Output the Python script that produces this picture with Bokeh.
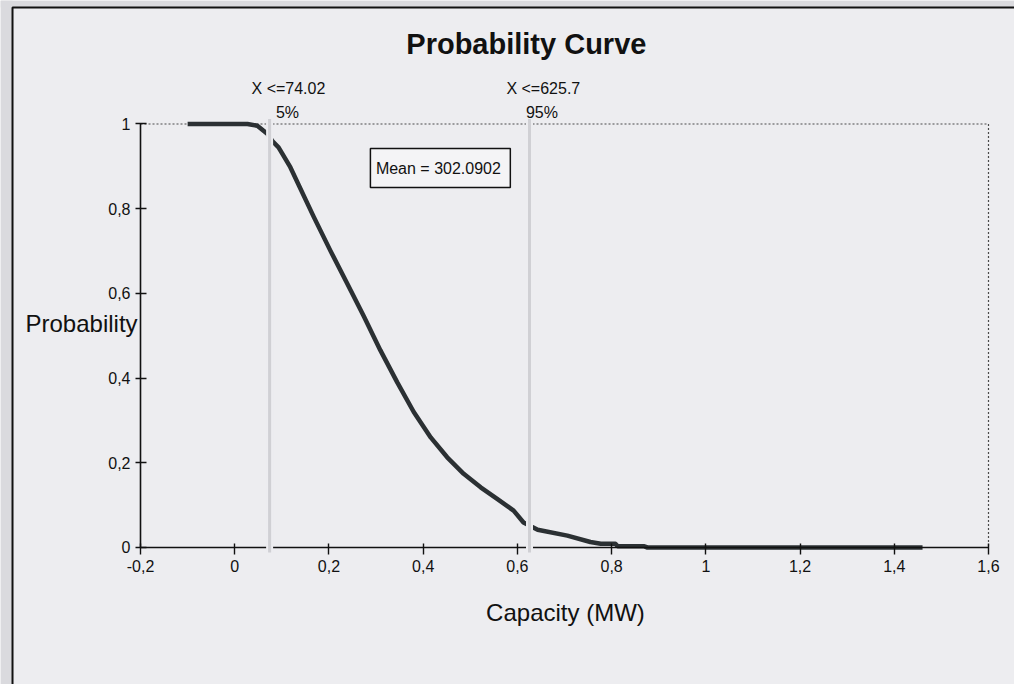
from bokeh.plotting import figure
from bokeh.models import Range1d, FixedTicker
from bokeh.embed import file_html
from bokeh.resources import INLINE
from bokeh.core.properties import value

# ---- data (capacity in thousands of MW units as on the axis) ----
capacity = [-0.100, 0.027, 0.048, 0.069, 0.082, 0.093, 0.118, 0.168, 0.203, 0.239,
            0.274, 0.309, 0.345, 0.380, 0.416, 0.451, 0.486, 0.522, 0.557, 0.592,
            0.613, 0.643, 0.706, 0.755, 0.777, 0.808, 0.813, 0.868, 0.876, 1.460]
probability = [1.000, 1.000, 0.996, 0.977, 0.957, 0.945, 0.898, 0.780, 0.701, 0.623,
               0.546, 0.466, 0.390, 0.320, 0.260, 0.213, 0.174, 0.142, 0.115, 0.087,
               0.059, 0.042, 0.028, 0.013, 0.009, 0.009, 0.003, 0.003, 0.000, 0.000]

x_ticks = [-0.2, 0.0, 0.2, 0.4, 0.6, 0.8, 1.0, 1.2, 1.4, 1.6]
x_tick_labels = ["-0,2", "0", "0,2", "0,4", "0,6", "0,8", "1", "1,2", "1,4", "1,6"]
y_ticks = [0.0, 0.2, 0.4, 0.6, 0.8, 1.0]
y_tick_labels = ["0", "0,2", "0,4", "0,6", "0,8", "1"]

p5_value = 74.02
p95_value = 625.7
p5_label = "5%"
p95_label = "95%"
mean_value = 302.0902

title_text = "Probability Curve"
x_label = "Capacity (MW)"
y_label = "Probability"

# ---- styling ----
BG = "#ededf0"
FONT = value("Liberation Sans")
INK = "#111111"
CURVE = "#2b3033"

X0, X1 = -0.4972, 1.6552
Y0, Y1 = -0.3235, 1.2916

p = figure(width=1014, height=684,
           x_range=Range1d(X0, X1), y_range=Range1d(Y0, Y1),
           output_backend="svg", toolbar_location=None, min_border=0,
           background_fill_color=BG, border_fill_color=BG)
p.outline_line_color = None
p.grid.visible = False

# axes through the data origin
p.xaxis.fixed_location = 0
p.yaxis.fixed_location = -0.2
p.xaxis.bounds = (x_ticks[0], x_ticks[-1])
p.yaxis.bounds = (y_ticks[0], y_ticks[-1])
p.xaxis.ticker = FixedTicker(ticks=x_ticks)
p.yaxis.ticker = FixedTicker(ticks=y_ticks)
p.xaxis.major_label_overrides = dict(zip(x_ticks, x_tick_labels))
p.yaxis.major_label_overrides = dict(zip(y_ticks, y_tick_labels))
for ax in (p.xaxis, p.yaxis):
    ax.minor_tick_line_color = None
    ax.axis_line_color = INK
    ax.axis_line_width = 1.6
    ax.major_tick_line_color = INK
    ax.major_tick_line_width = 1.4
    ax.major_label_text_font = "Liberation Sans"
    ax.major_label_text_font_size = "16px"
    ax.major_label_text_color = INK
p.xaxis.major_tick_in = 4
p.xaxis.major_tick_out = 7
p.xaxis.major_label_standoff = 6
p.yaxis.major_tick_in = 6
p.yaxis.major_tick_out = 5
p.yaxis.major_label_standoff = 5

# darker page strip outside the chart frame, and the frame's top/left edges
p.quad(left=[X0], right=[-0.4717], bottom=[Y0], top=[Y1],
       fill_color="#dadade", line_color=None)
p.quad(left=[X0], right=[X1], bottom=[1.2751], top=[Y1],
       fill_color="#dadade", line_color=None)
p.line(x=[-0.4717, -0.4717, X1], y=[Y0, 1.2751, 1.2751],
       line_color="#111111", line_width=2)

# dotted plot-area border (top and right)
p.line(x=[x_ticks[0], x_ticks[-1], x_ticks[-1]], y=[y_ticks[-1], y_ticks[-1], y_ticks[0]],
       line_color="#4a4a4a", line_width=1.2, line_dash="2 2")

# the probability curve
p.line(x=capacity, y=probability, line_color=CURVE, line_width=4.5, line_join="round")

# 5% / 95% marker lines (drawn on top, with a background halo)
for v in (p5_value, p95_value):
    xv = v / 1000.0
    p.line(x=[xv, xv], y=[-0.012, 1.012], line_color=BG, line_width=7, level="overlay")
    p.line(x=[xv, xv], y=[-0.012, 1.012], line_color="#d0d0d4", line_width=3, level="overlay")

# marker labels
p.text(x=[0.114, 0.655], y=[1.084, 1.084],
       text=[f"X <={p5_value}", f"X <={p95_value}"],
       text_font=FONT, text_font_size=value("16px"), text_color=INK,
       text_align="center", text_baseline="middle")
p.text(x=[0.112, 0.652], y=[1.027, 1.027], text=[p5_label, p95_label],
       text_font=FONT, text_font_size=value("16px"), text_color=INK,
       text_align="center", text_baseline="middle")

# mean box
p.quad(left=[0.288], right=[0.585], bottom=[0.850], top=[0.942],
       fill_color="#f4f4f6", line_color=INK, line_width=1.5)
p.text(x=[0.437], y=[0.896], text=[f"Mean =  {mean_value}"],
       text_font=FONT, text_font_size=value("16px"), text_color=INK,
       text_align="center", text_baseline="middle")

# title and axis labels
p.text(x=[0.619], y=[1.188], text=[title_text], text_font=FONT,
       text_font_size=value("29px"), text_font_style="bold", text_color=INK,
       text_align="center", text_baseline="middle")
p.text(x=[-0.2063], y=[0.529], text=[y_label], text_font=FONT,
       text_font_size=value("24px"), text_color=INK,
       text_align="right", text_baseline="middle")
p.text(x=[0.702], y=[-0.153], text=[x_label], text_font=FONT,
       text_font_size=value("24px"), text_color=INK,
       text_align="center", text_baseline="middle")

open("out.html", "w").write(file_html(p, INLINE))
